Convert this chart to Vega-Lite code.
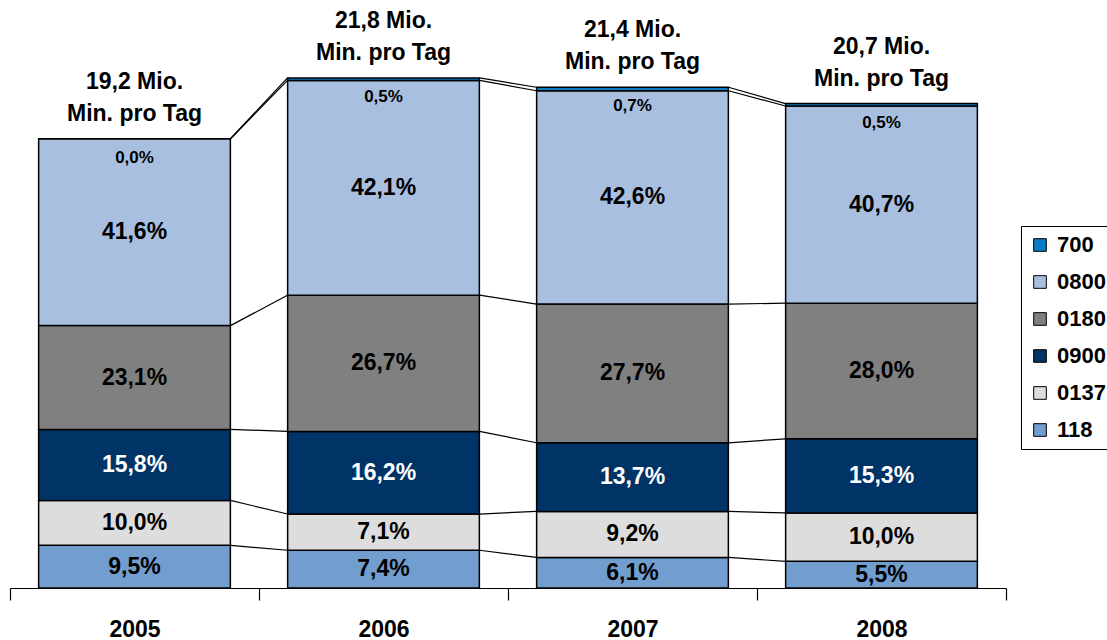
{
  "$schema": "https://vega.github.io/schema/vega-lite/v6.json",
  "autosize": "none",
  "width": 996,
  "height": 585,
  "padding": {"left": 10, "top": 3, "right": 101, "bottom": 52},
  "background": "white",
  "config": {"view": {"stroke": null}, "font": "Liberation Sans"},
  "data": {
    "values": [
      {"year": "2005", "series": "118", "ord": 1, "value": 1.824, "pct": "9,5%"},
      {"year": "2005", "series": "0137", "ord": 2, "value": 1.92, "pct": "10,0%"},
      {"year": "2005", "series": "0900", "ord": 3, "value": 3.0336, "pct": "15,8%"},
      {"year": "2005", "series": "0180", "ord": 4, "value": 4.4352, "pct": "23,1%"},
      {"year": "2005", "series": "0800", "ord": 5, "value": 7.9872, "pct": "41,6%"},
      {"year": "2005", "series": "700", "ord": 6, "value": 0.0, "pct": "0,0%"},
      {"year": "2006", "series": "118", "ord": 1, "value": 1.6132, "pct": "7,4%"},
      {"year": "2006", "series": "0137", "ord": 2, "value": 1.5478, "pct": "7,1%"},
      {"year": "2006", "series": "0900", "ord": 3, "value": 3.5316, "pct": "16,2%"},
      {"year": "2006", "series": "0180", "ord": 4, "value": 5.8206, "pct": "26,7%"},
      {"year": "2006", "series": "0800", "ord": 5, "value": 9.1778, "pct": "42,1%"},
      {"year": "2006", "series": "700", "ord": 6, "value": 0.109, "pct": "0,5%"},
      {"year": "2007", "series": "118", "ord": 1, "value": 1.3054, "pct": "6,1%"},
      {"year": "2007", "series": "0137", "ord": 2, "value": 1.9688, "pct": "9,2%"},
      {"year": "2007", "series": "0900", "ord": 3, "value": 2.9318, "pct": "13,7%"},
      {"year": "2007", "series": "0180", "ord": 4, "value": 5.9278, "pct": "27,7%"},
      {"year": "2007", "series": "0800", "ord": 5, "value": 9.1164, "pct": "42,6%"},
      {"year": "2007", "series": "700", "ord": 6, "value": 0.1498, "pct": "0,7%"},
      {"year": "2008", "series": "118", "ord": 1, "value": 1.1385, "pct": "5,5%"},
      {"year": "2008", "series": "0137", "ord": 2, "value": 2.07, "pct": "10,0%"},
      {"year": "2008", "series": "0900", "ord": 3, "value": 3.1671, "pct": "15,3%"},
      {"year": "2008", "series": "0180", "ord": 4, "value": 5.796, "pct": "28,0%"},
      {"year": "2008", "series": "0800", "ord": 5, "value": 8.4249, "pct": "40,7%"},
      {"year": "2008", "series": "700", "ord": 6, "value": 0.1035, "pct": "0,5%"}
    ]
  },
  "transform": [
    {"window": [{"op": "sum", "field": "value", "as": "top"}], "groupby": ["year"], "sort": [{"field": "ord"}]},
    {"window": [{"op": "lead", "field": "top", "as": "nextTop"}, {"op": "lead", "field": "year", "as": "nextYear"}], "groupby": ["series"], "sort": [{"field": "year"}]}
  ],
  "layer": [
    {
      "mark": {"type": "bar", "stroke": "black", "strokeWidth": 1.5, "width": {"band": 0.77}},
      "encoding": {
        "x": {
          "field": "year", "type": "ordinal",
          "scale": {"paddingInner": 0, "paddingOuter": 0},
          "axis": {
            "title": null, "labelAngle": 0, "domainColor": "black", "domainWidth": 1.2,
            "tickColor": "black", "tickWidth": 1.2, "tickSize": 12, "tickBand": "extent",
            "labelFontSize": 23, "labelFontWeight": "bold", "labelColor": "black",
            "labelFont": "Liberation Sans", "labelPadding": 18
          }
        },
        "y": {"field": "value", "type": "quantitative", "stack": "zero", "scale": {"domain": [0, 25], "nice": false}, "axis": null},
        "order": {"field": "ord", "type": "quantitative", "sort": "ascending"},
        "color": {
          "field": "series", "type": "nominal",
          "scale": {
            "domain": ["700", "0800", "0180", "0900", "0137", "118"],
            "range": ["#0A7CC8", "#A9BFE0", "#808080", "#003366", "#DDDDDD", "#729DCF"]
          },
          "legend": {
            "title": null, "orient": "none", "legendX": 1011, "legendY": 223,
            "strokeColor": "black", "padding": 8, "symbolType": "square", "symbolSize": 160,
            "symbolStrokeColor": "black", "symbolStrokeWidth": 1, "labelFontSize": 22,
            "labelFontWeight": "bold", "labelFont": "Liberation Sans", "labelColor": "black",
            "rowPadding": 15, "labelOffset": 6, "fillColor": "white"
          }
        }
      }
    },
    {
      "transform": [{"filter": {"field": "nextYear", "valid": true}}],
      "mark": {"type": "rule", "color": "black", "strokeWidth": 1.2, "xOffset": 96, "x2Offset": -96},
      "encoding": {
        "x": {"field": "year", "type": "ordinal", "axis": {"title": null}},
        "x2": {"field": "nextYear"},
        "y": {"field": "top", "type": "quantitative", "scale": {"domain": [0, 25], "nice": false}, "axis": null},
        "y2": {"field": "nextTop"}
      }
    },
    {
      "mark": {"type": "text", "fontSize": 23, "fontWeight": "bold", "font": "Liberation Sans", "baseline": "middle"},
      "encoding": {
        "x": {"field": "year", "type": "ordinal"},
        "y": {"field": "value", "type": "quantitative", "stack": "zero", "bandPosition": 0.5, "scale": {"domain": [0, 25], "nice": false}},
        "order": {"field": "ord", "type": "quantitative", "sort": "ascending"},
        "detail": {"field": "series", "type": "nominal"},
        "text": {"condition": {"test": "datum.series === '700'", "value": ""}, "field": "pct", "type": "nominal"},
        "color": {"condition": {"test": "datum.series === '0900'", "value": "white"}, "value": "black"}
      }
    },
    {
      "mark": {"type": "text", "fontSize": 17, "fontWeight": "bold", "font": "Liberation Sans", "baseline": "middle", "dy": 19, "color": "black"},
      "encoding": {
        "x": {"field": "year", "type": "ordinal"},
        "y": {"field": "value", "type": "quantitative", "stack": "zero", "scale": {"domain": [0, 25], "nice": false}},
        "order": {"field": "ord", "type": "quantitative", "sort": "ascending"},
        "detail": {"field": "series", "type": "nominal"},
        "text": {"condition": {"test": "datum.series !== '700'", "value": ""}, "field": "pct", "type": "nominal"}
      }
    },
    {
      "data": {
        "values": [
          {"year": "2005", "total": 19.2, "label": ["19,2 Mio.", "Min. pro Tag"]},
          {"year": "2006", "total": 21.8, "label": ["21,8 Mio.", "Min. pro Tag"]},
          {"year": "2007", "total": 21.4, "label": ["21,4 Mio.", "Min. pro Tag"]},
          {"year": "2008", "total": 20.7, "label": ["20,7 Mio.", "Min. pro Tag"]}
        ]
      },
      "mark": {"type": "text", "fontSize": 23, "fontWeight": "bold", "font": "Liberation Sans", "baseline": "bottom", "lineHeight": 32, "dy": -45, "color": "black"},
      "encoding": {
        "x": {"field": "year", "type": "ordinal"},
        "y": {"field": "total", "type": "quantitative", "scale": {"domain": [0, 25], "nice": false}},
        "text": {"field": "label", "type": "nominal"}
      }
    }
  ]
}
